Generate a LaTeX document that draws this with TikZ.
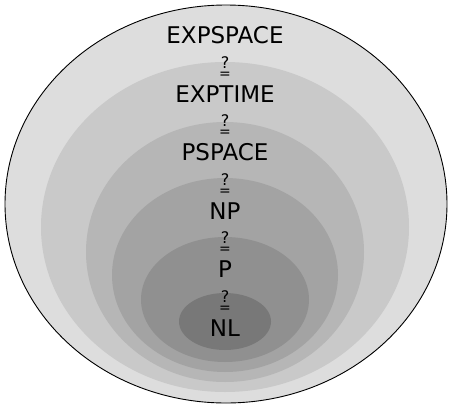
\documentclass[tikz,border=0pt]{standalone}
\usepackage{fontspec}
\setmainfont{DejaVu Sans}
\usetikzlibrary{positioning}

\definecolor{clsA}{gray}{0.865}
\definecolor{clsB}{gray}{0.79}
\definecolor{clsC}{gray}{0.715}
\definecolor{clsD}{gray}{0.64}
\definecolor{clsE}{gray}{0.565}
\definecolor{clsF}{gray}{0.47}

\newcommand{\qeqsign}{\shortstack{{\fontsize{16}{16}\selectfont ?}\\[1pt]{\fontsize{14}{14}\selectfont =}}}

\begin{document}
\begin{tikzpicture}[x=1pt,y=-1pt]
  \tikzset{cls/.style={font=\fontsize{23}{26}\selectfont,inner sep=0pt},
           qeq/.style={inner sep=0pt,anchor=north}}
  \useasboundingbox (0,0) rectangle (450,410);
  % nested classes
  \fill[clsA,draw=black,line width=0.9pt] (226,204) ellipse [x radius=221,y radius=199];
  \fill[clsB] (225,227) ellipse [x radius=184,y radius=165];
  \fill[clsC] (225,252) ellipse [x radius=139,y radius=130];
  \fill[clsD] (225,275) ellipse [x radius=113,y radius=97];
  \fill[clsE] (225,299.5) ellipse [x radius=84,y radius=62.5];
  \fill[clsF] (225,321.5) ellipse [x radius=46,y radius=28.5];

  \node[cls] (expspace) at (225,35.5) {EXPSPACE};
  \node[cls] (exptime) at (225,94) {EXPTIME};
  \node[cls] (pspace) at (225,152.5) {PSPACE};
  \node[cls] (np) at (225,211) {NP};
  \node[cls] (p) at (225,269.5) {P};
  \node[cls] (nl) at (225,328) {NL};

  % question marks over equals signs
  \foreach \k in {0,...,4}
    \node[qeq] (q\k) at (225,56+58.5*\k) {\qeqsign};
\end{tikzpicture}
\end{document}
